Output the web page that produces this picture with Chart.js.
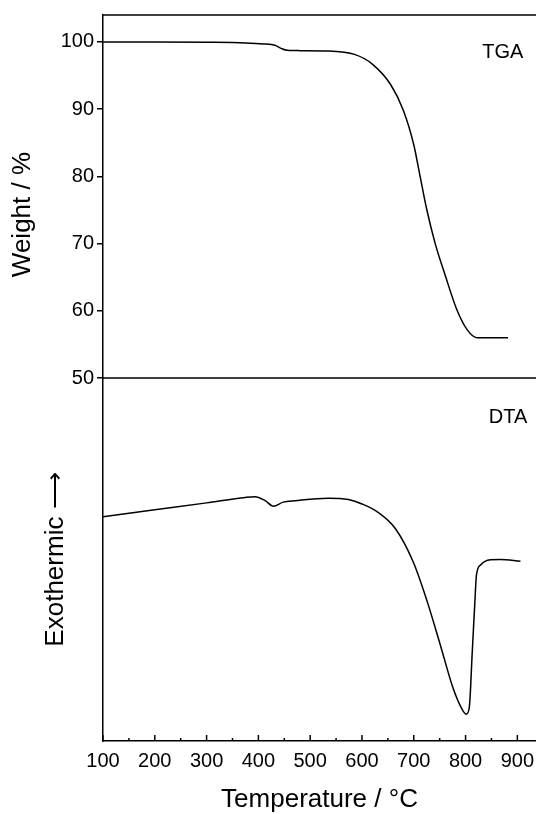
<!DOCTYPE html>
<html>
<head>
<meta charset="utf-8">
<script src="https://cdn.jsdelivr.net/npm/chart.js@4.4.0/dist/chart.umd.min.js"></script>
<style>
  html, body { margin: 0; padding: 0; background: #fff; }
  #wrap { width: 536px; height: 814px; }
</style>
</head>
<body>
<div id="wrap"><canvas id="tg"></canvas></div>
<script>
// TGA curve (weight %)
const tgaTemp   = [100, 200, 300, 375, 410, 432, 445, 456, 480, 535, 587, 620, 655, 680, 700, 712, 725, 741, 761, 783, 803, 822, 850, 882];
const tgaWeight = [100, 100, 99.95, 99.85, 99.7, 99.5, 99.0, 98.75, 98.7, 98.65, 98.1, 96.7, 93.7, 89.8, 84.7, 80.1, 75.1, 70.1, 65.2, 60.2, 57.2, 56.0, 56.0, 56.0];

// DTA curve (arbitrary units, 0 = bottom of the panel)
const dtaTemp   = [100, 200, 300, 375, 394, 413, 429, 448, 471, 535, 574, 600, 631, 664, 699, 726, 751, 776, 793, 801, 807, 813, 818, 821, 829, 848, 867, 906];
const dtaSignal = [61.8, 63.7, 65.6, 67.1, 67.3, 66.2, 64.7, 65.8, 66.2, 66.9, 66.5, 65.3, 63.0, 58.6, 49.3, 38.4, 26.6, 14.5, 8.8, 7.4, 9.0, 24.7, 38.4, 45.7, 48.5, 49.9, 50.0, 49.5];

const tempTicks   = [100, 200, 300, 400, 500, 600, 700, 800, 900];
const tempMinor   = [150, 250, 350, 450, 550, 650, 750, 850];
const weightTicks = [50, 60, 70, 80, 90, 100];

const font = "'Liberation Sans', Arial, sans-serif";

// frame lines, inward ticks on the temperature axis and panel labels
const frame = {
    id: 'frame',
    afterDraw(chart) {
        const {ctx, chartArea, scales} = chart;
        const x = scales.x, w = scales.w, d = scales.d;
        ctx.save();
        ctx.strokeStyle = '#000';
        ctx.lineWidth = 1.5;
        ctx.beginPath();
        ctx.moveTo(chartArea.left, chartArea.top);
        ctx.lineTo(chartArea.right, chartArea.top);
        const ySep = w.getPixelForValue(50);
        ctx.moveTo(chartArea.left, ySep);
        ctx.lineTo(chartArea.right, ySep);
        const yb = x.top;
        tempTicks.forEach(t => {
            const px = x.getPixelForValue(t);
            ctx.moveTo(px, yb);
            ctx.lineTo(px, yb - 6);
        });
        tempMinor.forEach(t => {
            const px = x.getPixelForValue(t);
            ctx.moveTo(px, yb);
            ctx.lineTo(px, yb - 3);
        });
        ctx.stroke();
        ctx.fillStyle = '#000';
        ctx.font = '20px ' + font;
        ctx.textAlign = 'center';
        ctx.textBaseline = 'middle';
        ctx.fillText('TGA', x.getPixelForValue(872), w.getPixelForValue(98.4));
        ctx.fillText('DTA', x.getPixelForValue(882), d.getPixelForValue(89));
        ctx.restore();
    }
};

const line = {
    borderColor: '#000',
    borderWidth: 1.5,
    pointRadius: 0,
    fill: false,
    cubicInterpolationMode: 'monotone'
};

new Chart(document.getElementById('tg'), {
    type: 'line',
    data: {
        datasets: [
            Object.assign({label: 'TGA', yAxisID: 'w',
                data: tgaTemp.map((t, i) => ({x: t, y: tgaWeight[i]}))}, line),
            Object.assign({label: 'DTA', yAxisID: 'd',
                data: dtaTemp.map((t, i) => ({x: t, y: dtaSignal[i]}))}, line)
        ]
    },
    options: {
        responsive: true,
        maintainAspectRatio: false,
        animation: false,
        layout: { padding: { top: 12, right: 0, left: 0, bottom: 0 } },
        plugins: {
            legend: { display: false },
            tooltip: { enabled: false }
        },
        scales: {
            x: {
                type: 'linear',
                min: 100,
                max: 936,
                afterBuildTicks: s => { s.ticks = tempTicks.map(v => ({value: v})); },
                afterFit: s => { s.height = 73; s.paddingLeft = 0; s.paddingRight = 0; },
                grid: { display: false, drawTicks: false },
                border: { display: true, color: '#000', width: 1.5 },
                ticks: {
                    color: '#000',
                    padding: 8,
                    maxRotation: 0,
                    autoSkip: false,
                    font: { family: font, size: 20 }
                },
                title: {
                    display: true,
                    text: 'Temperature / °C',
                    color: '#000',
                    font: { family: font, size: 26, lineHeight: 1 },
                    padding: { top: 0, bottom: 1 }
                }
            },
            d: {
                type: 'linear',
                position: 'left',
                stack: 'tg',
                stackWeight: 1,
                min: 0,
                max: 100,
                afterFit: s => { s.width = 103; },
                grid: { display: false },
                border: { display: true, color: '#000', width: 1.5 },
                ticks: { display: false },
                title: {
                    display: true,
                    text: 'Exothermic ⟶',
                    color: '#000',
                    font: { family: font, size: 26, lineHeight: 1.2 },
                    padding: { top: 40, bottom: 0 }
                }
            },
            w: {
                type: 'linear',
                position: 'left',
                stack: 'tg',
                stackWeight: 1,
                min: 50,
                max: 104,
                afterBuildTicks: s => { s.ticks = weightTicks.map(v => ({value: v})); },
                afterFit: s => { s.width = 103; },
                grid: {
                    display: true,
                    drawOnChartArea: false,
                    drawTicks: true,
                    tickLength: 6,
                    color: '#000',
                    lineWidth: 1.5
                },
                border: { display: true, color: '#000', width: 1.5 },
                ticks: {
                    color: '#000',
                    padding: 3,
                    font: { family: font, size: 20 }
                },
                title: {
                    display: true,
                    text: 'Weight / %     ',
                    color: '#000',
                    font: { family: font, size: 26, lineHeight: 1.2 },
                    padding: { top: 7, bottom: 0 }
                }
            }
        }
    },
    plugins: [frame]
});
</script>
</body>
</html>
